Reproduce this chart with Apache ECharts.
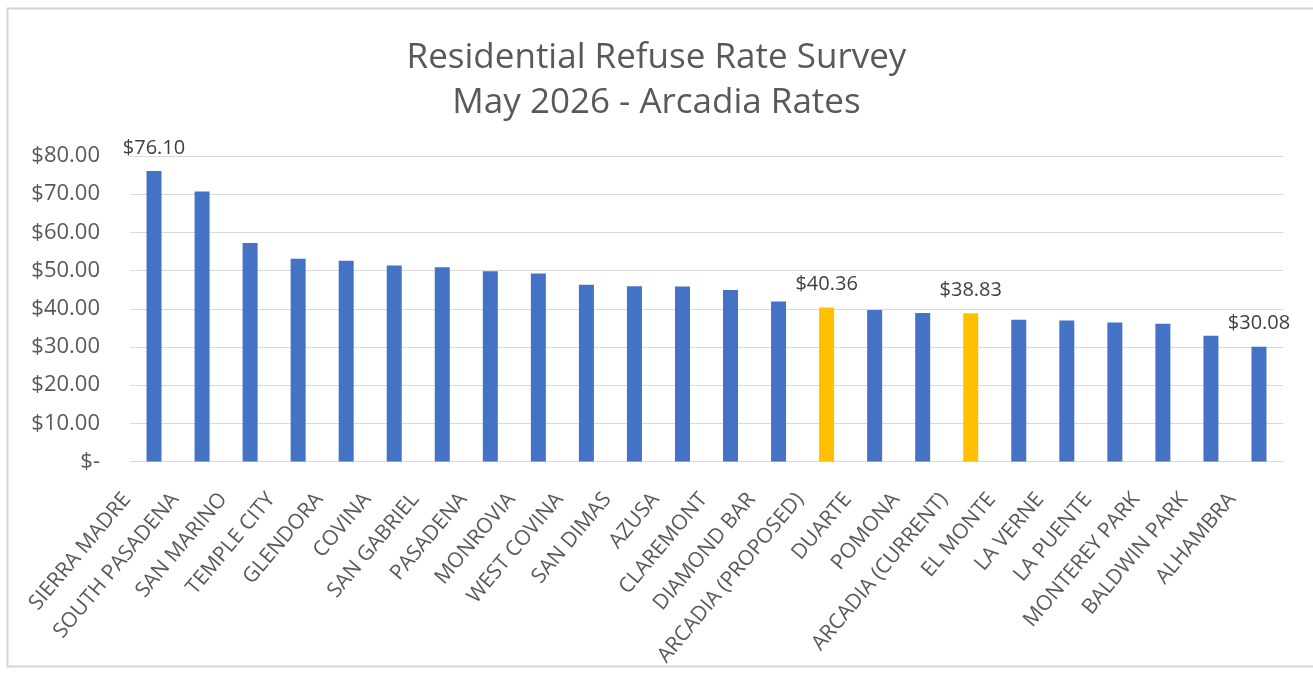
<!DOCTYPE html>
<html>
<head>
<meta charset="utf-8">
<title>Residential Refuse Rate Survey</title>
<script src="https://cdn.jsdelivr.net/npm/echarts@6/dist/echarts.min.js"></script>
<style>
  html, body { margin: 0; padding: 0; background: #ffffff; }
  #chart { width: 1313px; height: 679px; }
</style>
</head>
<body>
<div id="chart"></div>
<script>
// Monthly residential refuse rates by city
const cities = [
  'SIERRA MADRE', 'SOUTH PASADENA', 'SAN MARINO', 'TEMPLE CITY', 'GLENDORA',
  'COVINA', 'SAN GABRIEL', 'PASADENA', 'MONROVIA', 'WEST COVINA', 'SAN DIMAS',
  'AZUSA', 'CLAREMONT', 'DIAMOND BAR', 'ARCADIA (PROPOSED)', 'DUARTE', 'POMONA',
  'ARCADIA (CURRENT)', 'EL MONTE', 'LA VERNE', 'LA PUENTE', 'MONTEREY PARK',
  'BALDWIN PARK', 'ALHAMBRA'
];
const rates = [
  76.10, 70.70, 57.20, 53.10, 52.60,
  51.30, 50.90, 49.80, 49.20, 46.30, 45.90,
  45.80, 44.90, 41.90, 40.36, 39.70, 38.90,
  38.83, 37.10, 36.90, 36.40, 36.10,
  32.90, 30.08
];
// Cities whose bar is highlighted, and cities whose value is printed
const highlighted = ['ARCADIA (PROPOSED)', 'ARCADIA (CURRENT)'];
const labelled = ['SIERRA MADRE', 'ARCADIA (PROPOSED)', 'ARCADIA (CURRENT)', 'ALHAMBRA'];
const yTicks = { min: 0, max: 80, interval: 10 };

const BLUE = '#4472C4';
const GOLD = '#FFC000';
const TEXT = '#595959';
const FONT = '"Open Sans", "Noto Sans", sans-serif';

const money = v => v === 0 ? '$-' : '$' + v.toFixed(2);

const chart = echarts.init(document.getElementById('chart'), null, { renderer: 'canvas' });

chart.setOption({
  backgroundColor: '#ffffff',
  animation: false,
  textStyle: { fontFamily: FONT },
  graphic: [{
    type: 'rect',
    shape: { x: 7.5, y: 8.5, width: 1320, height: 658 },
    style: { fill: 'none', stroke: '#d4d4d4', lineWidth: 2 },
    silent: true
  }],
  title: {
    text: 'Residential Refuse Rate Survey\nMay 2026 - Arcadia Rates',
    left: 'center',
    top: 31,
    textStyle: {
      fontFamily: FONT,
      fontSize: 35,
      fontWeight: 'normal',
      color: TEXT,
      lineHeight: 45
    }
  },
  grid: { left: 130, right: 30, top: 156, bottom: 217.5, containLabel: false },
  xAxis: {
    type: 'category',
    data: cities,
    axisLine: { show: true, lineStyle: { color: '#d9d9d9', width: 1 } },
    axisTick: { show: false },
    axisLabel: {
      interval: 0,
      rotate: 50,
      margin: 2,
      padding: [0, 42, 0, 0],
      color: TEXT,
      fontSize: 21,
      fontFamily: FONT
    }
  },
  yAxis: {
    type: 'value',
    min: yTicks.min,
    max: yTicks.max,
    interval: yTicks.interval,
    axisLine: { show: false },
    axisTick: { show: false },
    splitLine: { show: true, lineStyle: { color: '#d9d9d9', width: 1 } },
    axisLabel: {
      formatter: money,
      color: TEXT,
      fontSize: 22,
      fontFamily: FONT,
      margin: 30
    }
  },
  series: [{
    type: 'bar',
    barWidth: 15,
    data: cities.map((c, i) => ({
      value: rates[i],
      itemStyle: { color: highlighted.includes(c) ? GOLD : BLUE },
      label: {
        show: labelled.includes(c),
        position: 'top',
        distance: 13,
        formatter: p => money(p.value),
        color: '#404040',
        fontSize: 20,
        fontFamily: FONT
      }
    }))
  }]
});
</script>
</body>
</html>
